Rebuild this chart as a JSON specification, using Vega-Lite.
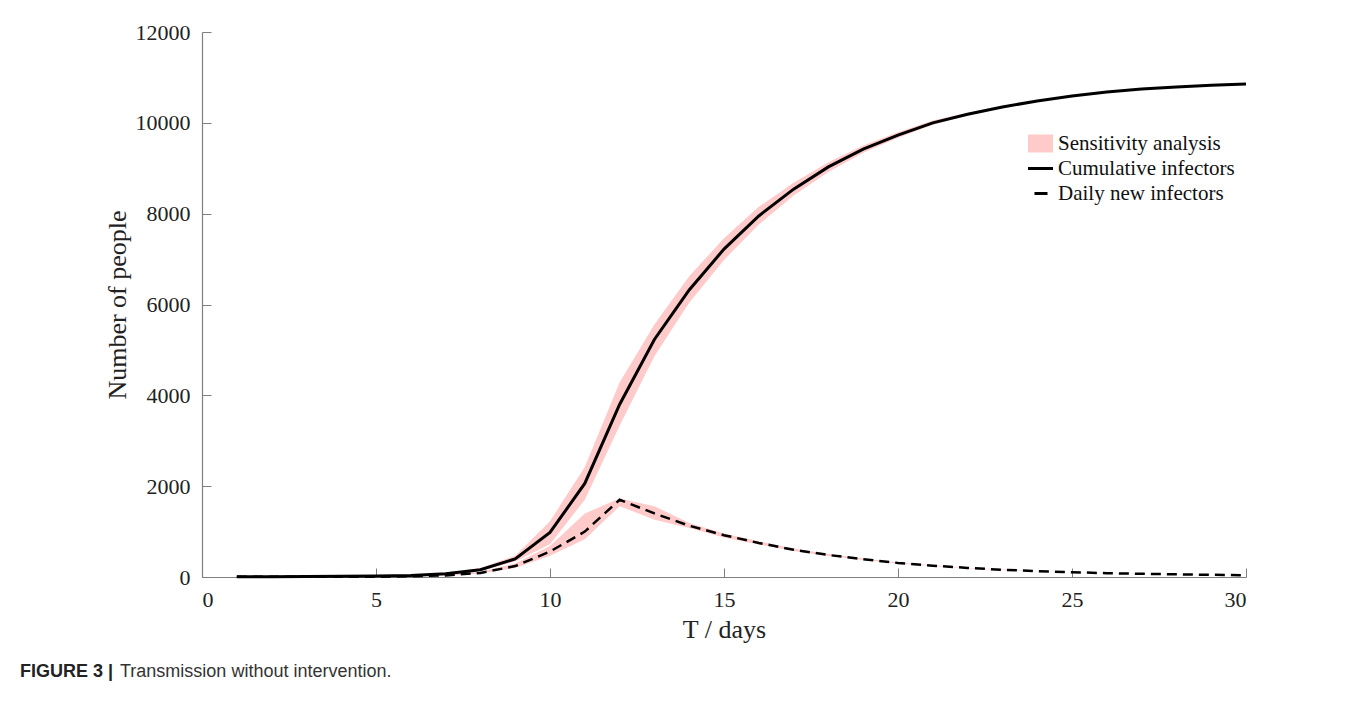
{
  "$schema": "https://vega.github.io/schema/vega-lite/v6.json",
  "autosize": "none",
  "width": 1044,
  "height": 545,
  "padding": {"left": 202, "top": 32, "right": 117, "bottom": 133},
  "background": "white",
  "config": {"view": {"stroke": null}},
  "title": {
    "text": "FIGURE 3 |",
    "subtitle": "\u200b\u00a0\u00a0\u00a0\u00a0\u00a0\u00a0\u00a0\u00a0\u00a0\u00a0\u00a0\u00a0\u00a0\u00a0\u00a0\u00a0\u00a0\u00a0\u00a0\u00a0Transmission without intervention.",
    "orient": "bottom",
    "anchor": "start",
    "frame": "group",
    "dx": -182,
    "offset": 21,
    "font": "Liberation Sans",
    "fontSize": 18,
    "fontWeight": "bold",
    "color": "#222",
    "subtitleFont": "Liberation Sans",
    "subtitleFontSize": 18,
    "subtitleFontWeight": "normal",
    "subtitleColor": "#333",
    "subtitlePadding": -18
  },
  "data": {
    "values": [
      {"day": 1, "cum": 5, "cumLo": 5, "cumHi": 5, "daily": 5, "dLo": 5, "dHi": 5},
      {"day": 2, "cum": 8, "cumLo": 8, "cumHi": 8, "daily": 3, "dLo": 3, "dHi": 3},
      {"day": 3, "cum": 10, "cumLo": 10, "cumHi": 10, "daily": 3, "dLo": 3, "dHi": 3},
      {"day": 4, "cum": 14, "cumLo": 14, "cumHi": 14, "daily": 4, "dLo": 4, "dHi": 4},
      {"day": 5, "cum": 20, "cumLo": 20, "cumHi": 22, "daily": 6, "dLo": 6, "dHi": 7},
      {"day": 6, "cum": 35, "cumLo": 33, "cumHi": 40, "daily": 15, "dLo": 13, "dHi": 18},
      {"day": 7, "cum": 70, "cumLo": 62, "cumHi": 85, "daily": 35, "dLo": 30, "dHi": 45},
      {"day": 8, "cum": 160, "cumLo": 140, "cumHi": 200, "daily": 90, "dLo": 75, "dHi": 115},
      {"day": 9, "cum": 400, "cumLo": 340, "cumHi": 470, "daily": 240, "dLo": 200, "dHi": 300},
      {"day": 10, "cum": 980, "cumLo": 720, "cumHi": 1230, "daily": 560, "dLo": 470, "dHi": 680},
      {"day": 11, "cum": 2060, "cumLo": 1700, "cumHi": 2420, "daily": 1000, "dLo": 830, "dHi": 1400},
      {"day": 12, "cum": 3800, "cumLo": 3330, "cumHi": 4280, "daily": 1700, "dLo": 1560, "dHi": 1730},
      {"day": 13, "cum": 5230, "cumLo": 4860, "cumHi": 5560, "daily": 1400, "dLo": 1260, "dHi": 1560},
      {"day": 14, "cum": 6320, "cumLo": 6040, "cumHi": 6620, "daily": 1130, "dLo": 1080, "dHi": 1190},
      {"day": 15, "cum": 7220, "cumLo": 6980, "cumHi": 7460, "daily": 920, "dLo": 870, "dHi": 960},
      {"day": 16, "cum": 7950, "cumLo": 7760, "cumHi": 8150, "daily": 750, "dLo": 715, "dHi": 785},
      {"day": 17, "cum": 8540, "cumLo": 8400, "cumHi": 8680, "daily": 600, "dLo": 575, "dHi": 625},
      {"day": 18, "cum": 9030, "cumLo": 8920, "cumHi": 9130, "daily": 485, "dLo": 465, "dHi": 505},
      {"day": 19, "cum": 9420, "cumLo": 9340, "cumHi": 9500, "daily": 390, "dLo": 375, "dHi": 405},
      {"day": 20, "cum": 9730, "cumLo": 9670, "cumHi": 9790, "daily": 310, "dLo": 300, "dHi": 320},
      {"day": 21, "cum": 10000, "cumLo": 9960, "cumHi": 10050, "daily": 250, "dLo": 243, "dHi": 257},
      {"day": 22, "cum": 10190, "cumLo": 10160, "cumHi": 10220, "daily": 200, "dLo": 195, "dHi": 205},
      {"day": 23, "cum": 10350, "cumLo": 10330, "cumHi": 10370, "daily": 160, "dLo": 156, "dHi": 164},
      {"day": 24, "cum": 10480, "cumLo": 10465, "cumHi": 10495, "daily": 130, "dLo": 127, "dHi": 133},
      {"day": 25, "cum": 10590, "cumLo": 10580, "cumHi": 10600, "daily": 105, "dLo": 103, "dHi": 107},
      {"day": 26, "cum": 10680, "cumLo": 10672, "cumHi": 10688, "daily": 85, "dLo": 83, "dHi": 87},
      {"day": 27, "cum": 10745, "cumLo": 10740, "cumHi": 10750, "daily": 70, "dLo": 69, "dHi": 71},
      {"day": 28, "cum": 10790, "cumLo": 10786, "cumHi": 10794, "daily": 58, "dLo": 57, "dHi": 59},
      {"day": 29, "cum": 10830, "cumLo": 10827, "cumHi": 10833, "daily": 48, "dLo": 47, "dHi": 49},
      {"day": 30, "cum": 10855, "cumLo": 10853, "cumHi": 10857, "daily": 40, "dLo": 39, "dHi": 41}
    ]
  },
  "encoding": {
    "x": {
      "field": "day",
      "type": "quantitative",
      "scale": {"domain": [0, 30], "nice": false, "zero": false},
      "axis": {
        "title": "T / days",
        "values": [0, 5, 10, 15, 20, 25, 30],
        "format": "d",
        "grid": false,
        "domainColor": "#7f7f7f",
        "domainWidth": 1.2,
        "tickColor": "#7f7f7f",
        "tickSize": -9,
        "tickWidth": 1,
        "labelFont": "Liberation Serif",
        "labelFontSize": 22,
        "labelColor": "#222",
        "labelPadding": 21,
        "titleFont": "Liberation Serif",
        "titleFontSize": 26,
        "titleFontWeight": "normal",
        "titleColor": "#222",
        "titlePadding": 6
      }
    }
  },
  "layer": [
    {
      "mark": {"type": "area", "opacity": 1},
      "encoding": {
        "y": {"field": "cumLo", "type": "quantitative"},
        "y2": {"field": "cumHi"},
        "color": {"datum": "Sensitivity analysis"}
      }
    },
    {
      "mark": {"type": "area", "opacity": 1},
      "encoding": {
        "y": {"field": "dLo", "type": "quantitative"},
        "y2": {"field": "dHi"},
        "color": {"datum": "Sensitivity analysis"}
      }
    },
    {
      "mark": {"type": "line", "strokeWidth": 3},
      "encoding": {
        "y": {"field": "cum", "type": "quantitative"},
        "color": {"datum": "Cumulative infectors"}
      }
    },
    {
      "mark": {"type": "line", "strokeWidth": 2.5, "strokeDash": [10, 6]},
      "encoding": {
        "y": {
          "field": "daily",
          "type": "quantitative",
          "scale": {"domain": [0, 12000], "nice": false},
          "axis": {
            "title": "Number of people",
            "values": [0, 2000, 4000, 6000, 8000, 10000, 12000],
            "format": "d",
            "grid": false,
            "domainColor": "#7f7f7f",
            "domainWidth": 1.2,
            "tickColor": "#7f7f7f",
            "tickSize": -9,
            "labelFont": "Liberation Serif",
            "labelFontSize": 22,
            "labelColor": "#222",
            "labelPadding": 21,
            "titleFont": "Liberation Serif",
            "titleFontSize": 26,
            "titleFontWeight": "normal",
            "titleColor": "#222",
            "titlePadding": 5
          }
        },
        "color": {
          "datum": "Daily new infectors",
          "scale": {
            "domain": ["Sensitivity analysis", "Cumulative infectors", "Daily new infectors"],
            "range": ["#ffcaca", "#000000", "#000000"]
          },
          "legend": {
            "title": null,
            "orient": "none",
            "legendX": 828,
            "legendY": 101,
            "labelFont": "Liberation Serif",
            "labelFontSize": 21,
            "labelColor": "#111",
            "labelOffset": 7,
            "labelLimit": 400,
            "rowPadding": 3,
            "symbolSize": 625,
            "encode": {
              "symbols": {
                "update": {
                  "shape": {"signal": "datum.value === 'Sensitivity analysis' ? 'M-2.5,-1.8H2.5V1.8H-2.5Z' : 'stroke'"},
                  "size": {"signal": "datum.value === 'Sensitivity analysis' ? 100 : 625"},
                  "fill": {"signal": "datum.value === 'Sensitivity analysis' ? '#ffcaca' : 'transparent'"},
                  "stroke": {"signal": "datum.value === 'Sensitivity analysis' ? 'transparent' : '#000000'"},
                  "strokeWidth": {"signal": "datum.value === 'Sensitivity analysis' ? 0 : 3"},
                  "strokeDash": {"signal": "datum.value === 'Daily new infectors' ? [0, 6.5, 13, 20] : []"},
                  "opacity": {"value": 1}
                }
              }
            }
          }
        }
      }
    }
  ]
}
